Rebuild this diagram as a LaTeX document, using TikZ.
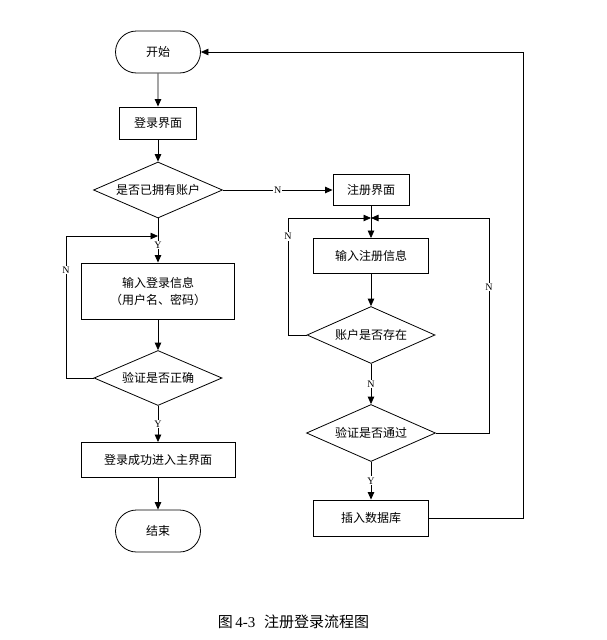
\documentclass[tikz,border=0pt]{standalone}
\usepackage{fontspec}
\setmainfont{Liberation Serif}
\newfontfamily\cjk{Noto Sans CJK SC}
\usetikzlibrary{shapes.geometric,shapes.misc,arrows.meta}
\begin{document}
\begin{tikzpicture}[x=1pt,y=-1pt,
  font=\cjk\fontsize{12}{17}\selectfont,
  proc/.style={draw, rectangle, line width=0.9pt, inner sep=0pt, align=center},
  term/.style={draw, rounded rectangle, line width=0.8pt, minimum width=85pt, minimum height=42pt, inner sep=0pt},
  dec/.style={draw, diamond, aspect=2.5, line width=0.8pt, inner sep=0pt},
  arr/.style={-{Triangle[length=7.5pt,width=6.5pt]}, line width=0.8pt},
  yn/.style={fill=white, inner sep=1pt, font=\rmfamily\fontsize{10}{10}\selectfont}]
\useasboundingbox (0,0) rectangle (607,640);
\node[term] (start) at (158,52) {开始};
\node[proc, minimum width=77pt, minimum height=32pt] (login) at (158,123) {登录界面};
\node[dec, minimum width=129pt, minimum height=56pt] (has) at (158,190) {是否已拥有账户};
\node[proc, minimum width=76pt, minimum height=31pt] (reg) at (371,190) {注册界面};
\node[proc, minimum width=153pt, minimum height=56pt] (inlogin) at (158,291) {输入登录信息\\（用户名、密码）};
\node[dec, minimum width=128pt, minimum height=55pt] (chk) at (158,378) {验证是否正确};
\node[proc, minimum width=154pt, minimum height=35pt] (ok) at (158,460) {登录成功进入主界面};
\node[term] (end) at (158,531) {结束};
\node[proc, minimum width=115pt, minimum height=35pt] (inreg) at (371,256) {输入注册信息};
\node[dec, minimum width=128pt, minimum height=57pt] (exist) at (371,335) {账户是否存在};
\node[dec, minimum width=129pt, minimum height=57pt] (pass) at (371,433) {验证是否通过};
\node[proc, minimum width=115pt, minimum height=36pt] (db) at (371,518) {插入数据库};
\node[font=\cjk\fontsize{15}{15}\selectfont] (cap) at (293.5,622) {图\,{\rmfamily 4-3}\hspace{9pt}注册登录流程图};
\coordinate (jl) at (158,236);
\coordinate (jr) at (371,218);
\coordinate (lc) at (66,236);
\coordinate (rl) at (288,218);
\coordinate (rr) at (489,218);
\coordinate (far) at (523,52);
\draw[arr] (start) -- (login);
\draw[arr] (login) -- (has);
\draw[arr] (has) -- node[yn]{N} (reg);
\draw[arr] (has) -- node[yn,pos=0.6]{Y} (inlogin);
\draw[arr] (inlogin) -- (chk);
\draw[arr] (chk.west) -| node[yn,pos=0.88]{N} (lc) -- (jl);
\draw[arr] (chk) -- node[yn]{Y} (ok);
\draw[arr] (ok) -- (end);
\draw[arr] (reg) -- (inreg);
\draw[arr] (inreg) -- (exist);
\draw[arr] (exist.west) -| node[yn,pos=0.92]{N} (rl) -- (jr);
\draw[arr] (exist) -- node[yn]{N} (pass);
\draw[arr] (pass.east) -| node[yn,pos=0.84]{N} (rr) -- (jr);
\draw[arr] (pass) -- node[yn]{Y} (db);
\draw[arr] (db.east) -| (far) -- (start.east);
\end{tikzpicture}
\end{document}
